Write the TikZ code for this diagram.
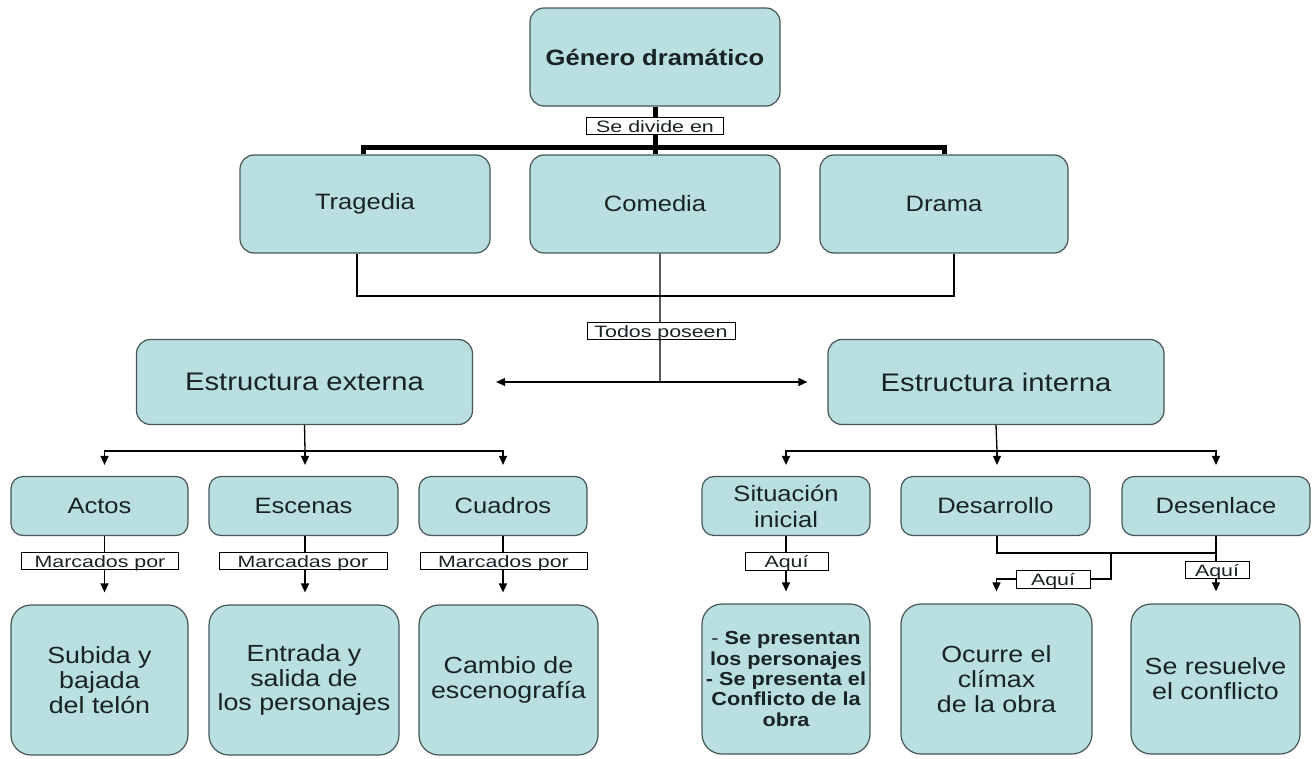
\documentclass[tikz,border=0pt]{standalone}
\usepackage{fontspec}
\setmainfont{Liberation Sans}[FakeStretch=1.15]
\newfontfamily\labfamily{Liberation Sans}[FakeStretch=1.3]
\usetikzlibrary{arrows.meta}
\definecolor{boxfill}{RGB}{185,223,225}
\definecolor{boxdraw}{RGB}{70,85,88}
\definecolor{txt}{RGB}{25,35,37}
\newcommand\fbig{\fontsize{25.5}{28}\selectfont}
\newcommand\fmid{\fontsize{22.3}{26}\selectfont}
\newcommand\fbot{\fontsize{23.4}{25}\selectfont}
\newcommand\flab{\labfamily\fontsize{16.5}{18}\selectfont}
\newcommand\fsml{\fontsize{18.9}{20.5}\selectfont\bfseries}
\begin{document}
\begin{tikzpicture}[x=1bp,y=-1bp,
  box/.style 2 args={draw=boxdraw, line width=1.2bp, fill=boxfill, rounded corners=14bp,
    text=txt, align=center, inner sep=0pt, minimum width=#1bp, minimum height=#2bp, font=\fmid},
  tallbox/.style 2 args={box={#1}{#2}, rounded corners=20bp, font=\fbot},
  lab/.style={draw=black, line width=0.8bp, fill=white, inner sep=0pt, text=txt,
    font=\flab, text height=15bp, text depth=2.5bp, minimum width=#1bp},
  thickln/.style={line width=5bp, black},
  ln/.style={line width=1.3bp, black},
  arr/.style={ln, -{Triangle[length=9bp,width=8bp]}}]
\useasboundingbox (0,0) rectangle (1313,758);

% boxes
\node[box={250}{98}, font=\fmid\bfseries] (gen) at (655,57) {Género dramático};
\node[box={250}{98}] (trag) at (365,204) {Tragedia};
\node[box={250}{98}] (com) at (655,204) {Comedia};
\node[box={248}{98}] (dram) at (944,204) {Drama};
\node[box={336}{85}, font=\fbig] (ext) at (304.5,382) {Estructura externa};
\node[box={336}{85}, font=\fbig] (int) at (996,382) {Estructura interna};
\node[box={177}{59}, rounded corners=12bp] (actos) at (99.5,506) {Actos};
\node[box={189}{59}, rounded corners=12bp] (esc) at (303.5,506) {Escenas};
\node[box={168}{59}, rounded corners=12bp] (cua) at (503,506) {Cuadros};
\node[box={168}{59}, rounded corners=12bp] (sit) at (786,506) {Situación\\inicial};
\node[box={189}{59}, rounded corners=12bp] (des) at (995.5,506) {Desarrollo};
\node[box={188}{59}, rounded corners=12bp] (desen) at (1216,506) {Desenlace};
\node[tallbox={177}{150}] (sub) at (99.5,680) {Subida y\\bajada\\del telón};
\node[tallbox={190}{150}] (ent) at (304,680) {Entrada y\\salida de\\los personajes};
\node[tallbox={179}{150}] (cam) at (508.5,680) {Cambio de\\escenografía};
\node[tallbox={168}{150}, font=\fsml] (pres) at (786,679) {{\mdseries -} Se presentan\\los personajes\\- Se presenta el\\Conflicto de la\\obra};
\node[tallbox={191}{150}] (ocu) at (996.5,679) {Ocurre el\\clímax\\de la obra};
\node[tallbox={169}{150}] (res) at (1215.5,679) {Se resuelve\\el conflicto};

% top connectors
\coordinate (bar) at (655,147);
\draw[thickln] (gen.south) -- (com.north);
\draw[thickln] ([xshift=-2bp]trag.north) |- (bar) -| (dram.north);
\node[lab=137] (sediv) at (655,126) {Se divide en};

\coordinate (tp) at (660,296);
\coordinate (jn) at (660,382);
\draw[ln] ([xshift=-8bp]trag.south) |- (tp) -| ([xshift=10bp]dram.south);
\draw[ln] ([xshift=5bp]com.south) -- (jn);
\draw[arr, shorten >=23bp] (jn) -- (ext.east);
\draw[arr, shorten >=20bp] (jn) -- (int.west);
\node[lab=148] (todos) at (661,331) {Todos poseen};

% external structure
\coordinate (eb) at (305,451);
\draw[ln] (ext.south) -- (eb);
\draw[arr, shorten >=11bp] (eb) -| ([xshift=5bp]actos.north);
\draw[arr, shorten >=11bp] (eb) -- (eb |- esc.north);
\draw[arr, shorten >=11bp] (eb) -| (cua.north);
\draw[arr, shorten >=12bp] ([xshift=5bp]actos.south) -- ([xshift=5bp]sub.north);
\draw[arr, shorten >=12bp] ([xshift=1.5bp]esc.south) -- ([xshift=1bp]ent.north);
\draw[arr, shorten >=12bp] (cua.south) -- (cua.south |- cam.north);
\node[lab=157] (m1) at (100,561) {Marcados por};
\node[lab=168] (m2) at (303,561) {Marcadas por};
\node[lab=167] (m3) at (503.5,561) {Marcados por};

% internal structure
\coordinate (ib) at (997,451);
\draw[ln] (int.south) -- (ib);
\draw[arr, shorten >=11bp] (ib) -| (sit.north);
\draw[arr, shorten >=11bp] (ib) -- (ib |- des.north);
\draw[arr, shorten >=11bp] (ib) -| (desen.north);
\draw[arr, shorten >=12bp] (sit.south) -- (pres.north);
\node[lab=83] (a1) at (786.5,561.5) {Aquí};

\coordinate (db) at (997,553);
\coordinate (br) at (1111,553);
\coordinate (bl) at (1111,579);
\draw[ln] ([xshift=1.5bp]des.south) -- (db) -| (desen.south);
\draw[arr, shorten >=12bp] (desen.south) -- (desen.south |- res.north);
\draw[arr, shorten >=12bp] (br) -- (bl) -| (ocu.north);
\node[lab=74] (a2) at (1053,579.5) {Aquí};
\node[lab=64] (a3) at (1217,570) {Aquí};
\end{tikzpicture}
\end{document}
